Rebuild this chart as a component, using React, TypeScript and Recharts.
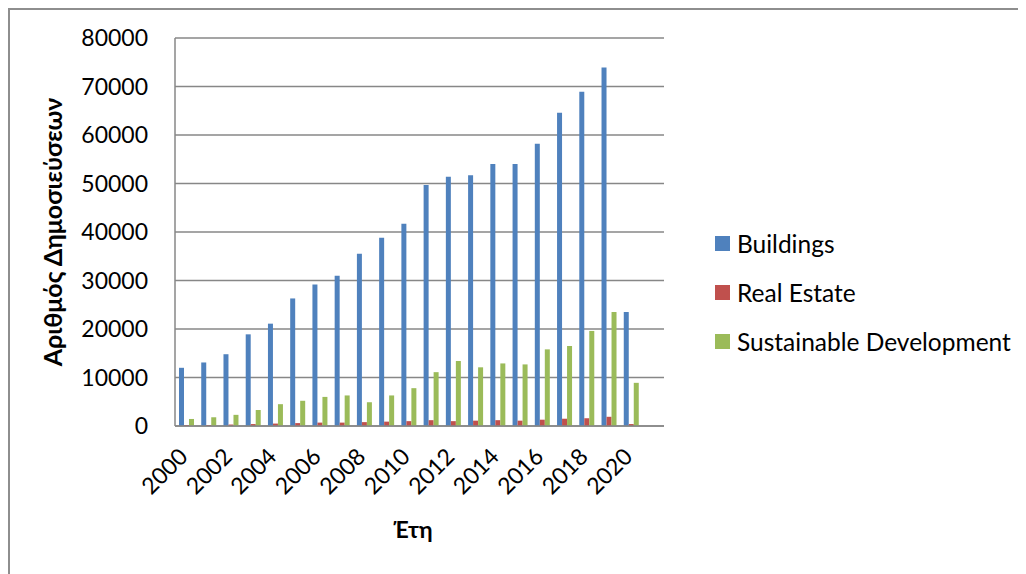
import { Bar, BarChart, CartesianGrid, XAxis, YAxis } from "recharts";

const YEARS = [
  "2000", "2001", "2002", "2003", "2004", "2005", "2006", "2007", "2008", "2009", "2010",
  "2011", "2012", "2013", "2014", "2015", "2016", "2017", "2018", "2019", "2020",
];

const BUILDINGS = [
  12000, 13100, 14800, 18900, 21100, 26300, 29200, 31000, 35500, 38800, 41700,
  49700, 51400, 51700, 54000, 54000, 58200, 64600, 68900, 73900, 23500,
];

const REAL_ESTATE = [
  200, 200, 300, 400, 500, 600, 700, 700, 800, 900, 1000,
  1200, 1000, 1100, 1200, 1100, 1300, 1500, 1600, 1900, 400,
];

const SUSTAINABLE = [
  1450, 1800, 2300, 3300, 4500, 5200, 6000, 6300, 4900, 6300, 7800,
  11100, 13400, 12100, 12900, 12700, 15800, 16500, 19600, 23500, 8900,
];

const Y_TICKS = [0, 10000, 20000, 30000, 40000, 50000, 60000, 70000, 80000];

const SERIES = [
  { key: "buildings", name: "Buildings", color: "#4F81BD" },
  { key: "realEstate", name: "Real Estate", color: "#C0504D" },
  { key: "sustainable", name: "Sustainable Development", color: "#9BBB59" },
];

const data = YEARS.map((year, i) => ({
  year,
  buildings: BUILDINGS[i],
  realEstate: REAL_ESTATE[i],
  sustainable: SUSTAINABLE[i],
}));

const FONT = "Lato, 'Open Sans', sans-serif";
const GRID = "#878787";

// year labels slanted at 45°, ending just right of the category centre
function YearTick(props: any) {
  const { x, y, payload } = props;
  return (
    <text
      x={x + 3}
      y={y}
      transform={`rotate(-45, ${x + 3}, ${y})`}
      textAnchor="end"
      fontFamily={FONT}
      fontSize={23}
      fill="#000"
    >
      {payload.value}
    </text>
  );
}

function LegendBox() {
  return (
    <div
      style={{
        position: "absolute",
        left: 705,
        top: 209,
        fontFamily: FONT,
        fontSize: 24.5,
        color: "#000",
        whiteSpace: "nowrap",
      }}
    >
      {SERIES.map((s) => (
        <div key={s.key} style={{ display: "flex", alignItems: "center", height: 49 }}>
          <span style={{ width: 15, height: 15, background: s.color, marginRight: 7 }} />
          <span>{s.name}</span>
        </div>
      ))}
    </div>
  );
}

export default function App() {
  return (
    <div
      style={{
        position: "relative",
        width: 1030,
        height: 580,
        border: `2px solid #8e8e8e`,
        background: "#fff",
        fontFamily: FONT,
      }}
    >
      <BarChart
        width={680}
        height={560}
        data={data}
        margin={{ top: 28, right: 26, left: 60, bottom: 44 }}
        barSize={5}
        barGap={0}
      >
        <CartesianGrid vertical={false} stroke={GRID} strokeWidth={1.5} />
        <XAxis
          dataKey="year"
          interval={1}
          padding={{ left: 0, right: 22 }}
          height={100}
          tickLine={false}
          axisLine={{ stroke: GRID, strokeWidth: 1.5 }}
          tick={<YearTick />}
          tickMargin={26}
        />
        <YAxis
          width={105}
          domain={[0, 80000]}
          ticks={Y_TICKS}
          interval={0}
          tickLine={false}
          axisLine={{ stroke: GRID, strokeWidth: 1.5 }}
          tick={{ fill: "#000", fontSize: 23, fontFamily: FONT }}
          tickMargin={21}
        />
        {SERIES.map((s) => (
          <Bar key={s.key} dataKey={s.key} name={s.name} fill={s.color} isAnimationActive={false} />
        ))}
      </BarChart>
      <LegendBox />
      <div
        style={{
          position: "absolute",
          left: 42,
          top: 222,
          transform: "translate(-50%, -50%) rotate(-90deg)",
          whiteSpace: "nowrap",
          fontWeight: 700,
          fontSize: 25,
        }}
      >
        Αριθμός Δημοσιεύσεων
      </div>
      <div
        style={{
          position: "absolute",
          left: 403,
          top: 519,
          transform: "translate(-50%, -50%)",
          whiteSpace: "nowrap",
          fontWeight: 700,
          fontSize: 23,
        }}
      >
        Έτη
      </div>
    </div>
  );
}
